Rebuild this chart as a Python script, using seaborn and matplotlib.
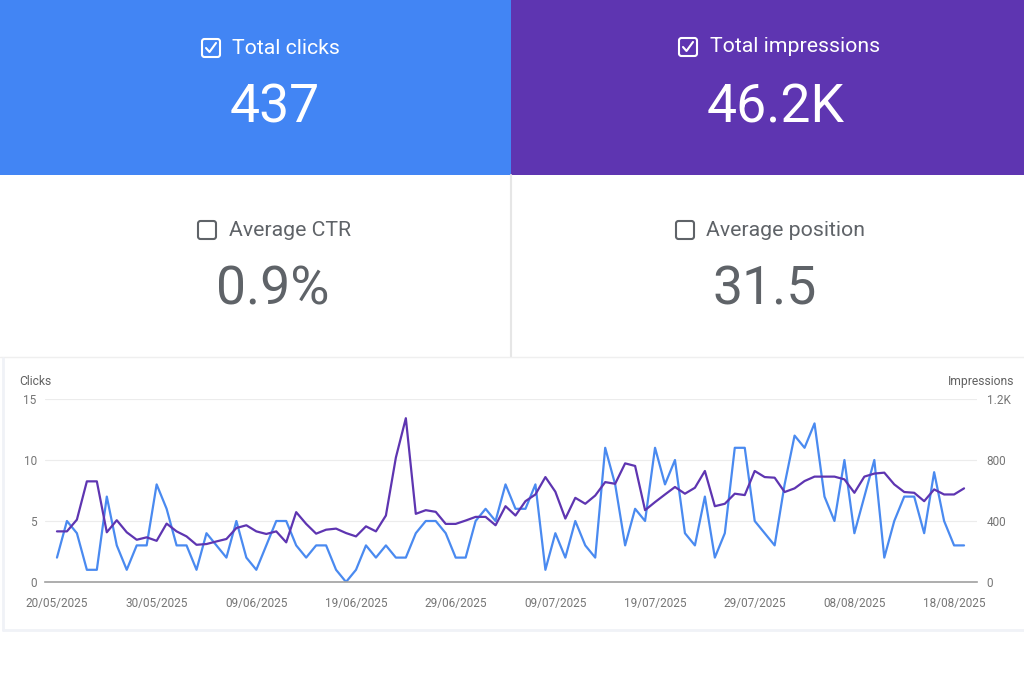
import matplotlib
matplotlib.use('Agg')
import matplotlib.pyplot as plt
from matplotlib.patches import Rectangle, FancyBboxPatch
import seaborn as sns
import pandas as pd

# Daily values (20/05/2025 -> 19/08/2025)
START_DATE = '2025-05-20'
clicks = [2, 5, 4, 1, 1, 7, 3, 1, 3, 3,
          8, 6, 3, 3, 1, 4, 3, 2, 5, 2,
          1, 3, 5, 5, 3, 2, 3, 3, 1, 0,
          1, 3, 2, 3, 2, 2, 4, 5, 5, 4,
          2, 2, 5, 6, 5, 8, 6, 6, 8, 1,
          4, 2, 5, 3, 2, 11, 8, 3, 6, 5,
          11, 8, 10, 4, 3, 7, 2, 4, 11, 11,
          5, 4, 3, 8, 12, 11, 13, 7, 5, 10,
          4, 7, 10, 2, 5, 7, 7, 4, 9, 5,
          3, 3]
impressions = [332, 332, 409, 660, 660, 326, 405, 326, 277, 293,
               270, 383, 332, 299, 244, 249, 266, 282, 354, 372,
               332, 315, 332, 260, 458, 381, 317, 343, 350, 321,
               299, 365, 332, 436, 816, 1074, 447, 471, 460, 381,
               381, 403, 427, 427, 372, 497, 436, 530, 574, 688,
               592, 416, 552, 513, 567, 655, 644, 778, 761, 471,
               524, 574, 623, 579, 618, 728, 497, 513, 579, 570,
               728, 688, 684, 590, 614, 662, 691, 691, 691, 673,
               585, 691, 711, 717, 640, 590, 585, 530, 607, 574,
               574, 614]
date_ticks = ['20/05/2025', '30/05/2025', '09/06/2025', '19/06/2025', '29/06/2025',
              '09/07/2025', '19/07/2025', '29/07/2025', '08/08/2025', '18/08/2025']
click_ticks = [0, 5, 10, 15]
impr_ticks = [0, 400, 800, 1200]
impr_tick_labels = ['0', '400', '800', '1.2K']

# summary cards
card_labels = ['Total clicks', 'Total impressions', 'Average CTR', 'Average position']
card_values = ['437', '46.2K', '0.9%', '31.5']

BLUE = '#4285F4'
PURPLE = '#5E35B1'
GREY = '#5f6368'
TICK_GREY = '#757575'

sns.set_style('white')
plt.rcParams['font.family'] = ['Roboto', 'DejaVu Sans']

df = pd.DataFrame({
    'date': pd.date_range(START_DATE, periods=len(clicks), freq='D'),
    'clicks': clicks,
    'impressions': impressions,
})

fig = plt.figure(figsize=(10.24, 6.9), dpi=100)

# background layer in pixel coords for the cards
bg = fig.add_axes([0, 0, 1, 1], zorder=0)
bg.set_xlim(0, 1024)
bg.set_ylim(690, 0)
bg.axis('off')

bg.add_patch(Rectangle((0, 0), 511, 175, color=BLUE, lw=0))
bg.add_patch(Rectangle((511, 0), 513, 175, color=PURPLE, lw=0))
bg.plot([511, 511], [175, 357], color='#e6e6e6', lw=1.5)
bg.plot([0, 1024], [357, 357], color='#efefef', lw=1)
bg.plot([3, 3], [358, 630], color='#f0f2f7', lw=2)
bg.plot([3, 1024], [630, 630], color='#f0f2f7', lw=2)


def checkbox(cx, cy, color, checked):
    bg.add_patch(FancyBboxPatch((cx - 9, cy - 9), 18, 18,
                                boxstyle='round,pad=0,rounding_size=2.5',
                                fill=False, ec=color, lw=1.5))
    if checked:
        bg.plot([cx - 5, cx - 1.5, cx + 5], [cy, cy + 4, cy - 5], color=color, lw=1.5,
                solid_capstyle='round', solid_joinstyle='round')


card_pos = [(211, 48, 232, 275, 108), (688, 47, 710, 776, 108),
            (207, 230, 229, 273, 290), (685, 230, 706, 765, 290)]
for i, (lab, val) in enumerate(zip(card_labels, card_values)):
    bx, by, tx, vx, vy = card_pos[i]
    col = 'white' if i < 2 else GREY
    checkbox(bx, by, col, i < 2)
    bg.text(tx, by, lab, color=col, fontsize=15.3, va='center', ha='left')
    bg.text(vx, vy, val, color=col, fontsize=38.5, va='center', ha='center')

# chart
ax = fig.add_axes([45 / 1024, 1 - 582 / 690, 932 / 1024, 183 / 690], zorder=1)
ax.patch.set_alpha(0)
sns.lineplot(data=df, x='date', y='clicks', ax=ax, color='#4a8af0', linewidth=1.6)
ax2 = ax.twinx()
sns.lineplot(data=df, x='date', y='impressions', ax=ax2, color=PURPLE, linewidth=1.6)

t0 = df['date'].iloc[0]
ax.set_xlim(t0 - pd.Timedelta(days=1.2), t0 + pd.Timedelta(days=92.3))
ax.set_ylim(0, 15)
ax2.set_ylim(0, 1200)
ax.set_yticks(click_ticks)
ax2.set_yticks(impr_ticks)
ax2.set_yticklabels(impr_tick_labels)
ax.set_xticks(pd.to_datetime(date_ticks, format='%d/%m/%Y'))
ax.set_xticklabels(date_ticks)

for a in (ax, ax2):
    a.set_xlabel('')
    a.set_ylabel('')
    for s in a.spines.values():
        s.set_visible(False)
    a.tick_params(length=0, labelsize=8.5, labelcolor=TICK_GREY)
ax.tick_params(axis='x', pad=11)
ax.tick_params(axis='y', pad=6)
ax2.tick_params(axis='y', pad=7)
ax.grid(axis='y', color='#ececec', lw=0.8)
ax.grid(axis='x', visible=False)
ax.spines['bottom'].set_visible(True)
ax.spines['bottom'].set_color('#a0a0a0')
ax.spines['bottom'].set_linewidth(1.2)

fig.text(19 / 1024, 1 - 382 / 690, 'Clicks', fontsize=8.7, color='#616161', va='center')
fig.text(1014 / 1024, 1 - 382 / 690, 'Impressions', fontsize=8.7, color='#616161',
         va='center', ha='right')

fig.savefig('out.png', dpi=100, facecolor='white')
